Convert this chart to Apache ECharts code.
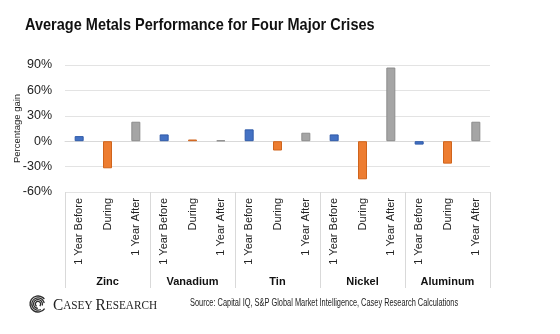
<!DOCTYPE html>
<html>
<head>
<meta charset="utf-8">
<script src="https://cdn.jsdelivr.net/npm/echarts@6/dist/echarts.min.js"></script>
<style>
  html, body { margin: 0; padding: 0; background: #ffffff; }
  #chart { width: 560px; height: 334px; }
</style>
</head>
<body>
<div id="chart"></div>
<script>
// Metals and crisis phases
var metals = ['Zinc', 'Vanadium', 'Tin', 'Nickel', 'Aluminum'];
var phases = ['1 Year Before', 'During', '1 Year After'];

// Average percentage gain per metal, one value per phase
var zinc = [6, -32, 23];
var vanadium = [8, 2, 1];
var tin = [14, -11, 10];
var nickel = [8, -45, 87];
var aluminum = [-4, -26.5, 23];

// Value axis ticks
var yTicks = [-60, -30, 0, 30, 60, 90];

var phaseColors = ['#4472C4', '#ED7D31', '#A5A5A5'];
var phaseBorders = ['#2F5AA8', '#D0641C', '#8C8C8C'];

var byMetal = [zinc, vanadium, tin, nickel, aluminum];
var categories = [];
var values = [];
byMetal.forEach(function (vals) {
  vals.forEach(function (v, i) {
    categories.push(phases[i]);
    values.push({
      value: v,
      itemStyle: { color: phaseColors[i], borderColor: phaseBorders[i], borderWidth: 1 }
    });
  });
});

var chart = echarts.init(document.getElementById('chart'), null, { renderer: 'canvas' });

// Swirl mark for the logo
var swirl = [];
[8, 6.2, 4.4, 2.6].forEach(function (r, k) {
  swirl.push({
    type: 'arc',
    shape: { cx: 38, cy: 304, r: r, startAngle: 0.6 + k * 0.5, endAngle: 0.6 + k * 0.5 + Math.PI * 1.6 },
    style: { stroke: '#2b2b2b', lineWidth: 1.3, fill: null }
  });
});

var sans = 'Liberation Sans, Arial, sans-serif';

chart.setOption({
  animation: false,
  grid: { left: 65, right: 70, top: 65, bottom: 142, containLabel: false, outerBoundsMode: 'none' },
  xAxis: [
    {
      type: 'category',
      data: categories,
      position: 'bottom',
      axisLine: { show: true, lineStyle: { color: '#d9d9d9' } },
      axisTick: { show: false },
      axisLabel: {
        interval: 0, rotate: 90, margin: 6,
        fontFamily: sans, fontSize: 11, color: '#222'
      }
    },
    {
      type: 'category',
      data: metals,
      position: 'bottom',
      offset: 0,
      axisLine: { show: false },
      axisTick: { show: true, length: 96, lineStyle: { color: '#d9d9d9' } },
      axisLabel: {
        interval: 0, margin: 84,
        fontFamily: sans, fontSize: 11, fontWeight: 'bold', color: '#111'
      }
    }
  ],
  yAxis: {
    type: 'value',
    min: yTicks[0],
    max: yTicks[yTicks.length - 1],
    interval: 30,
    name: 'Percentage gain',
    nameLocation: 'middle',
    nameRotate: 90,
    nameGap: 43,
    nameMoveOverlap: false,
    nameTextStyle: { fontFamily: sans, fontSize: 9.5, color: '#222' },
    axisLine: { show: false },
    axisTick: { show: false },
    axisLabel: {
      margin: 13,
      formatter: function (v) { return v + '%'; },
      fontFamily: sans, fontSize: 12.5, color: '#222'
    },
    splitLine: { lineStyle: { color: '#e3e3e3', width: 1 } }
  },
  series: [{
    type: 'bar',
    xAxisIndex: 0,
    barWidth: 9,
    data: values
  }],
  graphic: [
    {
      type: 'text', x: 25, y: 17, scaleX: 0.854,
      style: {
        text: 'Average Metals Performance for Four Major Crises',
        font: 'bold 17px "Liberation Sans", Arial, sans-serif',
        fill: '#111'
      }
    },
    {
      type: 'group',
      children: swirl
    },
    {
      type: 'text', x: 53, y: 297, scaleX: 0.9,
      style: {
        rich: {
          b: { fontFamily: 'Liberation Serif, Times New Roman, serif', fontSize: 17, fill: '#222' },
          s: { fontFamily: 'Liberation Serif, Times New Roman, serif', fontSize: 12.5, fill: '#222' }
        },
        text: '{b|C}{s|ASEY} {b|R}{s|ESEARCH}'
      }
    },
    {
      type: 'text', x: 190, y: 298, scaleX: 0.74,
      style: {
        text: 'Source: Capital IQ, S&P Global Market Intelligence, Casey Research Calculations',
        font: '10px "Liberation Sans", Arial, sans-serif',
        fill: '#222'
      }
    }
  ]
});
</script>
</body>
</html>
